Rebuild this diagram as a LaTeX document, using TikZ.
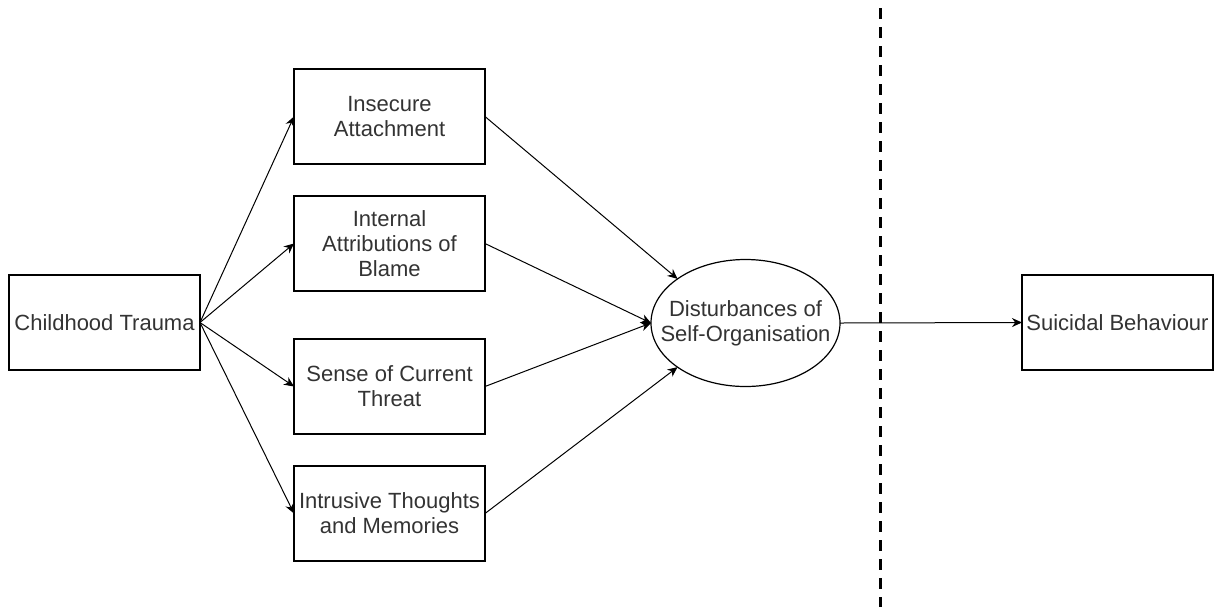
\documentclass[tikz,border=0pt]{standalone}
\usepackage{fontspec}
\setmainfont{Liberation Sans}
\usepackage{tikz,tkz-graph}
\usetikzlibrary{arrows.meta,shapes.geometric}
\tikzstyle{factorBox}=[shape = rectangle, minimum width = 95.5pt, minimum height = 47.5pt, inner sep = 1pt, align = center, draw, line width = 0.6pt, font = \fontsize{11}{12.5}\selectfont, text = black!80]
\tikzstyle{outcomeOval}=[shape = ellipse, minimum width = 94.5pt, minimum height = 63.5pt, inner xsep = -10pt, inner ysep = 1pt, align = center, draw, line width = 0.6pt, font = \fontsize{11}{12.5}\selectfont, text = black!80]

\begin{document}
\begin{tikzpicture}[x = 0.5pt, y = -0.5pt]
\tikzstyle{VertexStyle} = []
\tikzstyle{EdgeStyle} = [line width = 0.5pt, -{Stealth[length = 5pt, width = 4.5pt]}]
\tikzstyle{dividerLine} = [line width = 1.5pt, dash pattern = on 5.5pt off 4pt]
\useasboundingbox (0,0) rectangle (1222,607);
\Vertex[style = factorBox, x = 104.5, y = 322.5, L = {Childhood Trauma}]{trauma}
\Vertex[style = factorBox, x = 389.5, y = 116.5, L = {Insecure\\Attachment}]{insecure}
\Vertex[style = factorBox, x = 389.5, y = 243.5, L = {Internal\\Attributions of\\Blame}]{blame}
\Vertex[style = factorBox, x = 389.5, y = 386.5, L = {Sense of Current\\Threat}]{threat}
\Vertex[style = factorBox, x = 389.5, y = 513.5, L = {Intrusive Thoughts\\and Memories}]{intrusive}
\Vertex[style = outcomeOval, x = 745.5, y = 323, L = {Disturbances of\\Self-Organisation}]{dso}
\Vertex[style = factorBox, x = 1117.5, y = 322.5, L = {Suicidal Behaviour}]{suicidal}
\coordinate (divTop) at (880,8);
\coordinate (divBottom) at (880,607);
\Edge(trauma.east)(insecure.west)
\Edge(trauma.east)(blame.west)
\Edge(trauma.east)(threat.west)
\Edge(trauma.east)(intrusive.west)
\Edge(insecure.east)(dso.147)
\Edge(blame.east)(dso.west)
\Edge(threat.east)(dso.west)
\Edge(intrusive.east)(dso.213)
\Edge(dso.east)(suicidal.west)
\draw[dividerLine] (divTop) -- (divBottom);
\end{tikzpicture}
\end{document}
